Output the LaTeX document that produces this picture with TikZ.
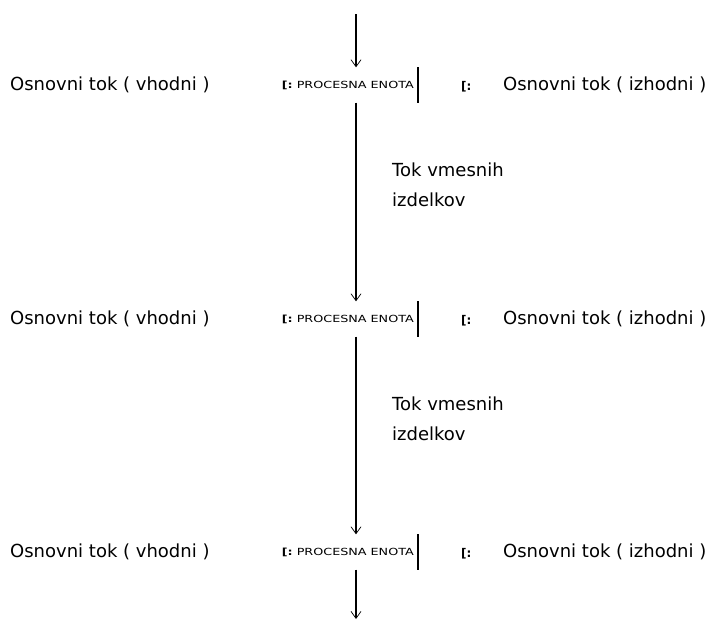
\documentclass[tikz,border=0pt]{standalone}
\usepackage{fontspec}
\setmainfont{DejaVu Sans}
\newfontfamily\unitfont[FakeStretch=1.3]{DejaVu Sans}
\usetikzlibrary{arrows.meta}

\begin{document}
\begin{tikzpicture}[x=1pt,y=-1pt,
    flow/.style={line width=1.4pt,-{Straight Barb[length=7pt,width=10pt,line width=.7pt]}}]

      \useasboundingbox (0,0) rectangle (710,619);

      % process units, only the right side is drawn
      \begin{scope}[every node/.style={font=\unitfont\fontsize{9.8}{11}\selectfont,
          minimum height=35pt,inner ysep=0pt,inner xsep=4pt,anchor=east}]
        \node (pe1) at (418,85)  {\textbf{[:}\ PROCESNA ENOTA};
        \node (pe2) at (418,319) {\textbf{[:}\ PROCESNA ENOTA};
        \node (pe3) at (418,552) {\textbf{[:}\ PROCESNA ENOTA};
      \end{scope}

      \foreach \p in {pe1,pe2,pe3}
        \draw[line width=1.4pt] (\p.north east) -- (\p.south east);

      % main flow in and out
      \begin{scope}[every node/.style={font=\fontsize{18}{30}\selectfont,inner sep=0pt,anchor=base west}]
        \node (in1)  at (10,90)  {Osnovni tok ( vhodni )};
        \node (in2)  at (10,324) {Osnovni tok ( vhodni )};
        \node (in3)  at (10,557) {Osnovni tok ( vhodni )};
        \node (out1) at (503,90)  {Osnovni tok ( izhodni )};
        \node (out2) at (503,324) {Osnovni tok ( izhodni )};
        \node (out3) at (503,557) {Osnovni tok ( izhodni )};
        \node[anchor=north west,align=left] (iz1) at (392,163) {Tok vmesnih\\izdelkov};
        \node[anchor=north west,align=left] (iz2) at (392,397) {Tok vmesnih\\izdelkov};
      \end{scope}

      \begin{scope}[every node/.style={font=\bfseries\fontsize{12}{14}\selectfont,inner sep=0pt,anchor=base west}]
        \node (s1) at (461,90)  {[:};
        \node (s2) at (461,324) {[:};
        \node (s3) at (461,557) {[:};
      \end{scope}

      % flow of intermediate products
      \coordinate (top) at (356,14);
      \coordinate (bot) at (356,619);
      \draw[flow] (top) -- (top |- pe1.north);
      \draw[flow] (top |- pe1.south) -- (top |- pe2.north);
      \draw[flow] (top |- pe2.south) -- (top |- pe3.north);
      \draw[flow] (top |- pe3.south) -- (bot);

    \end{tikzpicture}
\end{document}
